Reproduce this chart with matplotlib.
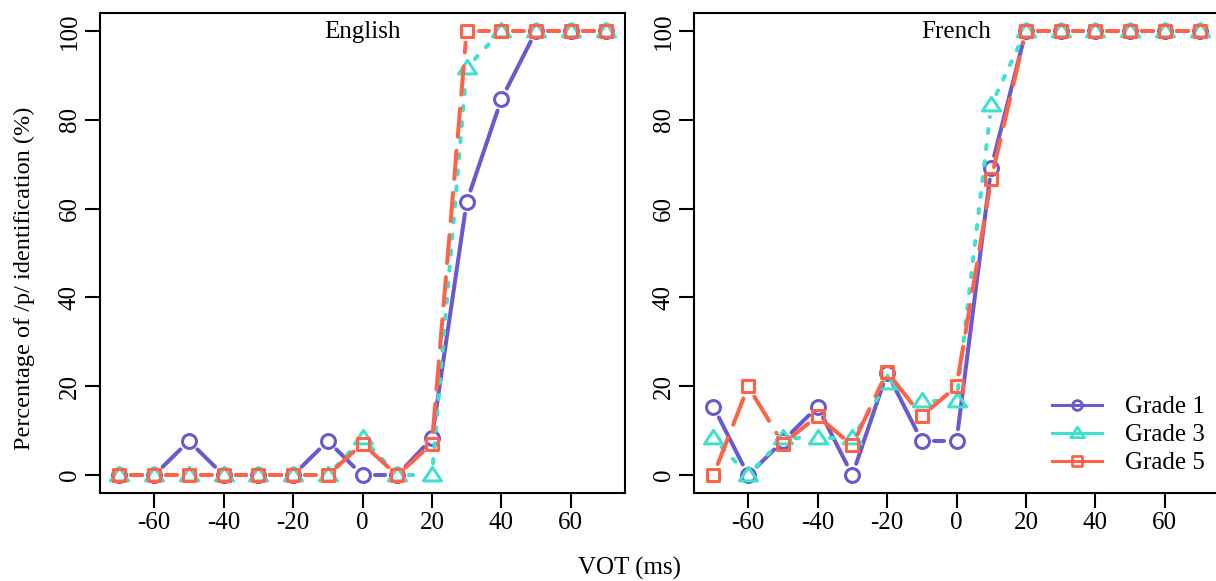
import numpy as np
import matplotlib
matplotlib.use("Agg")
import matplotlib.pyplot as plt
from matplotlib.path import Path
from matplotlib.markers import MarkerStyle
from matplotlib.lines import Line2D

plt.rcParams['font.family'] = ['Liberation Serif', 'DejaVu Serif']
plt.rcParams['axes.unicode_minus'] = False

# VOT continuum (ms)
vot = [-70, -60, -50, -40, -30, -20, -10, 0, 10, 20, 30, 40, 50, 60, 70]

# English: % /p/ identification
eng_g1 = [0, 0, 7.7, 0, 0, 0, 7.7, 0, 0, 8.3, 61.5, 84.6, 100, 100, 100]
eng_g3 = [0, 0, 0, 0, 0, 0, 0, 8.3, 0, 0, 91.7, 100, 100, 100, 100]
eng_g5 = [0, 0, 0, 0, 0, 0, 0, 7.1, 0, 7.1, 100, 100, 100, 100, 100]

# French
fr_g1 = [15.4, 0, 7.7, 15.4, 0, 23.1, 7.7, 7.7, 69.2, 100, 100, 100, 100, 100, 100]
fr_g3 = [8.3, 0, 8.3, 8.3, 8.3, 20.8, 16.7, 16.7, 83.3, 100, 100, 100, 100, 100, 100]
fr_g5 = [0, 20, 7.1, 13.3, 6.7, 23.3, 13.3, 20, 66.7, 100, 100, 100, 100, 100, 100]

grades = ['Grade 1', 'Grade 3', 'Grade 5']
colors = ['#6A5ACD', '#40E0D0', '#FF6347']
dashes = [None, (1, 3), (7, 3.5)]

tri = Path([(0, 0.9), (-1, -0.6), (1, -0.6), (0, 0)],
           [Path.MOVETO, Path.LINETO, Path.LINETO, Path.CLOSEPOLY])
markers = [MarkerStyle('o', joinstyle='round'),
           MarkerStyle(tri, joinstyle='round'),
           MarkerStyle('s', joinstyle='round')]
msizes = [10, 13, 8]
leg_sizes = [7, 10, 6.5]

LW = 2.9
MEW = 2.2
GAP = 12  # px gap around points (R type = "b")

W, H = 1216, 581
fig = plt.figure(figsize=(W / 100, H / 100), dpi=100)
ax1 = fig.add_axes([100 / W, (H - 493) / H, 525 / W, 480 / H])
ax2 = fig.add_axes([694 / W, (H - 493) / H, 525 / W, 480 / H])


def draw_b(ax, x, y, color, dash, marker, ms):
    pts = ax.transData.transform(np.column_stack([x, y]))
    inv = ax.transData.inverted()
    for p0, p1 in zip(pts[:-1], pts[1:]):
        d = p1 - p0
        L = np.hypot(*d)
        if L <= 2 * GAP:
            continue
        u = d / L
        seg = inv.transform(np.array([p0 + u * GAP, p1 - u * GAP]))
        ln, = ax.plot(seg[:, 0], seg[:, 1], color=color, lw=LW,
                      solid_capstyle='round', dash_capstyle='round')
        if dash:
            ln.set_dashes(dash)
    ax.plot(x, y, ls='none', marker=marker, ms=ms, mfc='none',
            mec=color, mew=MEW)


for ax, series, title in [(ax1, [eng_g1, eng_g3, eng_g5], 'English'),
                          (ax2, [fr_g1, fr_g3, fr_g5], 'French')]:
    ax.set_xlim(-75.6, 75.6)
    ax.set_ylim(-4, 104)
    for vals, c, dsh, m, ms in zip(series, colors, dashes, markers, msizes):
        draw_b(ax, vot, vals, c, dsh, m, ms)
    ax.text(0, 99.8, title, ha='center', va='center', fontsize=18)
    ax.set_xticks([-60, -40, -20, 0, 20, 40, 60])
    ax.set_yticks([0, 20, 40, 60, 80, 100])
    ax.tick_params(length=11, width=1.5, labelsize=18, pad=3)
    ax.tick_params(axis='y', labelrotation=90)
    for lbl in ax.get_yticklabels():
        lbl.set_va('center')
    for s in ax.spines.values():
        s.set_linewidth(1.5)

handles = [Line2D([], [], color=c, lw=2.2, marker=m, ms=s, mfc='none',
                  mec=c, mew=2) for c, m, s in zip(colors, markers, leg_sizes)]
ax2.legend(handles, grades, loc='upper left', bbox_to_anchor=(0.682, 0.2025),
           frameon=False, fontsize=18, borderaxespad=0, borderpad=0,
           handlelength=2.0, handletextpad=0.9, labelspacing=0.22)

fig.text(24 / W, (H - 278) / H, 'Percentage of /p/ identification (%)',
         rotation=90, ha='center', va='center', fontsize=17.5)
fig.text(630 / W, (H - 568) / H, 'VOT (ms)', ha='center', va='center',
         fontsize=18)

fig.savefig('out.png', dpi=100)
